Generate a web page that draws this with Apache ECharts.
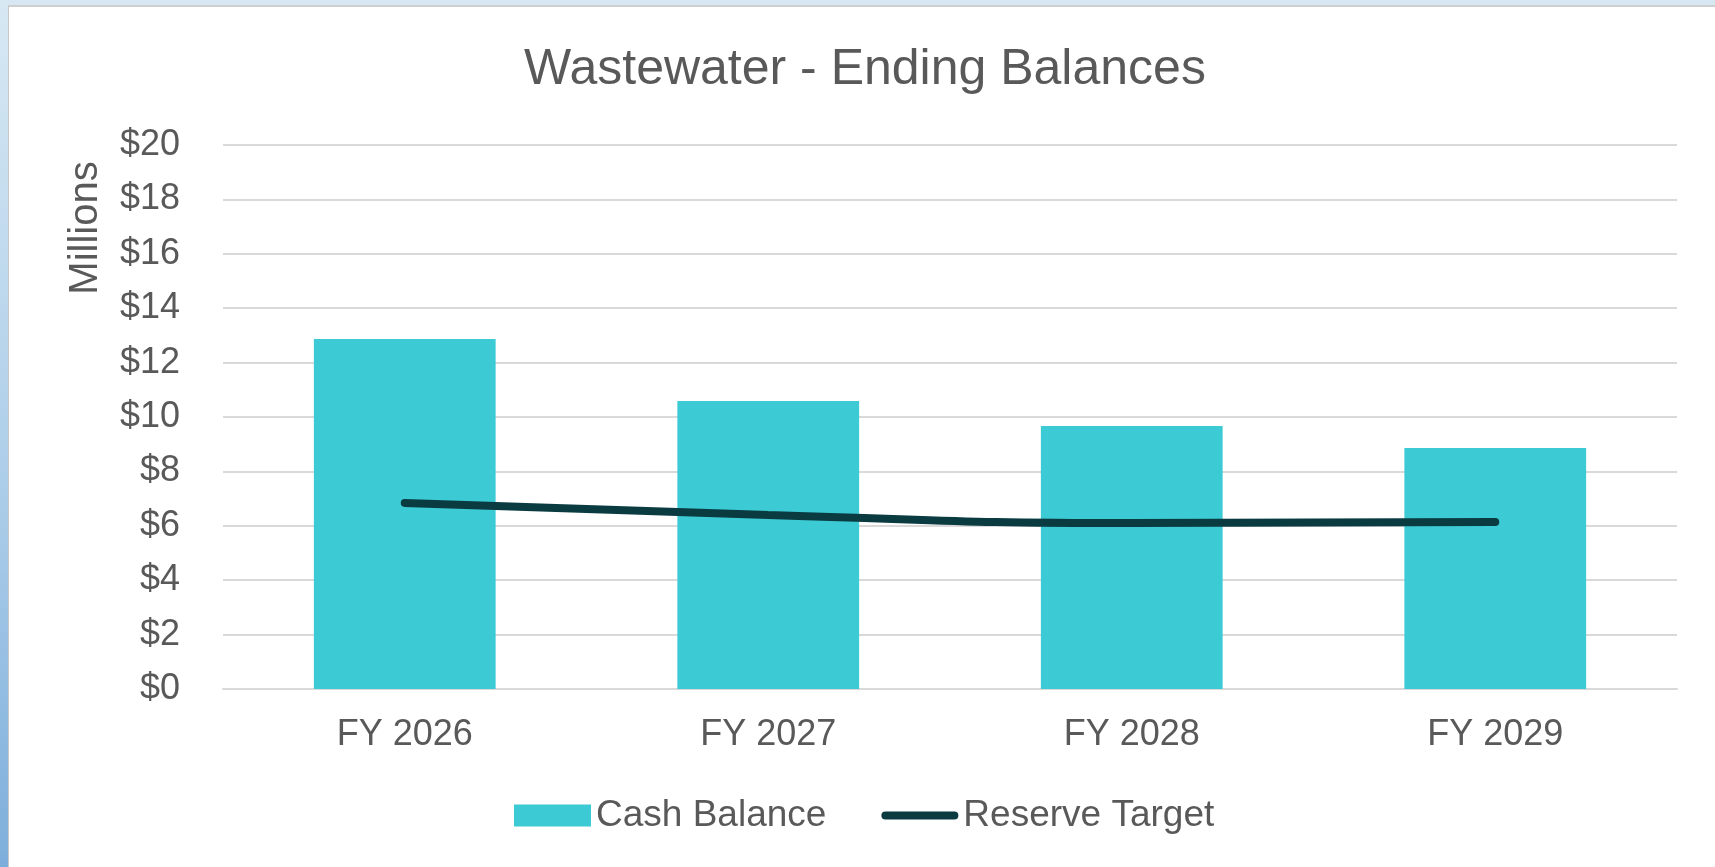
<!DOCTYPE html>
<html>
<head>
<meta charset="utf-8">
<title>Wastewater - Ending Balances</title>
<script src="https://cdn.jsdelivr.net/npm/echarts@6/dist/echarts.min.js"></script>
<style>
  html, body { margin: 0; padding: 0; }
  body {
    width: 1715px; height: 867px; overflow: hidden; position: relative;
    background: linear-gradient(to bottom, #d7e8f3 0%, #a9cbe8 60%, #7daedb 100%);
  }
  .sheet {
    position: absolute; left: 8px; top: 5px; right: 0; bottom: 0;
    background: #fff;
    border-left: 1px solid #c9c9c9; border-top: 2px solid #cfcfcf;
  }
  #chart { position: absolute; left: 0; top: 0; width: 1715px; height: 867px; }
</style>
</head>
<body>
<div class="sheet"></div>
<div id="chart"></div>
<script>
// values in $ millions
const years = ['FY 2026', 'FY 2027', 'FY 2028', 'FY 2029']
const cashBalance = [12.87, 10.59, 9.67, 8.86]
const reserveTarget = [6.84, 6.40, 6.10, 6.14]

const textColor = '#595959'
const lineColor = '#0a3b41'
const font = 'Liberation Sans, Arial, sans-serif'

const chart = echarts.init(document.getElementById('chart'), null, { renderer: 'canvas' })
chart.setOption({
  backgroundColor: 'transparent',
  animation: false,
  title: {
    text: 'Wastewater - Ending Balances',
    left: 860, top: 40, textAlign: 'center',
    textStyle: { color: textColor, fontSize: 50, fontWeight: 'normal', fontFamily: font }
  },
  legend: {
    left: 509, top: 792,
    itemWidth: 77, itemHeight: 22, itemGap: 55,
    textStyle: { color: textColor, fontSize: 37, fontFamily: font },
    data: [
      { name: 'Cash Balance', icon: 'rect' },
      // thick rounded stroke like the line itself
      { name: 'Reserve Target', icon: 'path://M4,0 L73,0 A4,4 0 0 1 73,8 L4,8 A4,4 0 0 1 4,0 Z' }
    ]
  },
  grid: { left: 223, right: 38, top: 145, bottom: 178 },
  xAxis: {
    type: 'category', data: years,
    axisLine: { lineStyle: { color: '#d9d9d9', width: 2 } },
    axisTick: { show: false },
    axisLabel: { color: textColor, fontSize: 36, fontFamily: font, margin: 28 }
  },
  yAxis: {
    type: 'value', min: 0, max: 20, interval: 2,
    axisLine: { show: false },
    axisTick: { show: false },
    splitLine: { lineStyle: { color: '#d9d9d9', width: 2 } },
    axisLabel: { color: textColor, fontSize: 36, fontFamily: font, margin: 43, formatter: v => '$' + v }
  },
  graphic: [{
    type: 'text', x: 86, y: 228, rotation: Math.PI / 2,
    style: {
      text: 'Millions', fill: textColor, fontSize: 40, fontFamily: font,
      align: 'center', verticalAlign: 'middle'
    }
  }],
  series: [
    {
      name: 'Cash Balance', type: 'bar', data: cashBalance,
      barWidth: '50%',
      itemStyle: { color: '#3ccad5' }
    },
    {
      name: 'Reserve Target', type: 'line', data: reserveTarget,
      smooth: true, symbol: 'none',
      lineStyle: { color: lineColor, width: 8, cap: 'round' },
      itemStyle: { color: lineColor }
    }
  ]
})
</script>
</body>
</html>
